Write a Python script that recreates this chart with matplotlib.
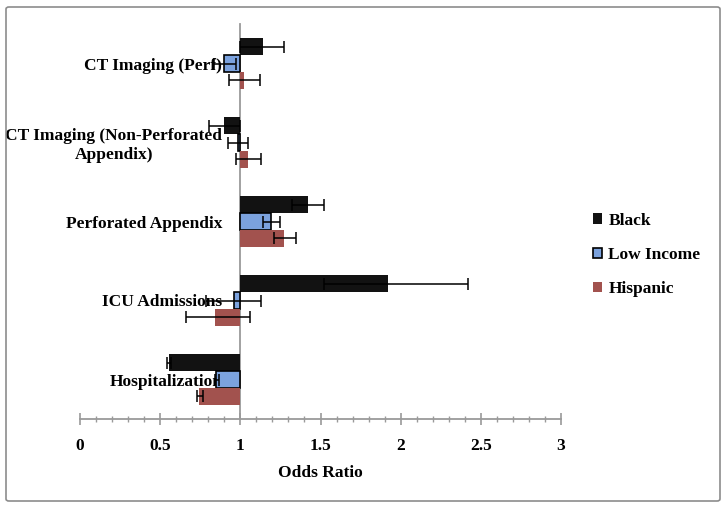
import numpy as np
import matplotlib
matplotlib.use("Agg")
import matplotlib.pyplot as plt
import matplotlib.patches as mpatches
from matplotlib.ticker import MultipleLocator

# 类别从下往上（Excel 条形图的顺序）
categories = ["Hospitalization", "ICU Admissions", "Perforated Appendix",
              "CT Imaging (Non-Perforated\nAppendix)", "CT Imaging (Perf)"]
series = ["Black", "Low Income", "Hispanic"]

black_or = [0.555, 1.92, 1.42, 0.90, 1.14]
black_lo = [0.545, 1.52, 1.32, 0.805, 1.00]
black_hi = [0.57, 2.42, 1.52, 1.00, 1.275]

low_or = [0.85, 0.96, 1.19, 0.985, 0.90]
low_lo = [0.84, 0.785, 1.14, 0.92, 0.835]
low_hi = [0.87, 1.13, 1.25, 1.05, 0.975]

hisp_or = [0.74, 0.84, 1.27, 1.045, 1.025]
hisp_lo = [0.73, 0.66, 1.21, 0.975, 0.93]
hisp_hi = [0.77, 1.06, 1.35, 1.13, 1.12]

COL_BLACK = "#121212"
COL_BLUE = "#7BA2DE"
COL_RED = "#A2524E"
AXIS_C = "#9A9A9A"
FONT = "Liberation Serif"
FS = 12.5

fig = plt.figure(figsize=(7.26, 5.07), dpi=100)
ax = fig.add_axes([80 / 726, 88 / 507, 481 / 726, 395 / 507])

y = np.arange(len(categories))
h = 0.215
data = [
    (black_or, black_lo, black_hi, COL_BLACK, "none", 0, h),
    (low_or, low_lo, low_hi, COL_BLUE, "black", 1.2, 0),
    (hisp_or, hisp_lo, hisp_hi, COL_RED, "none", 0, -h),
]
for (vals, lo, hi, col, ec, lw, off) in data:
    vals = np.array(vals)
    err = [vals - np.array(lo), np.array(hi) - vals]
    ax.barh(y + off, vals - 1, left=1, height=h, color=col,
            edgecolor=ec, linewidth=lw, zorder=2)
    ax.errorbar(vals, y + off, xerr=err, fmt="none", ecolor="black",
                elinewidth=1.1, capsize=4, capthick=1.1, zorder=3)

ax.set_xlim(0, 3)
ax.set_ylim(-0.5, 4.5)

# y 轴放在 x=1 处
ax.spines["left"].set_position(("data", 1))
ax.spines["left"].set_color(AXIS_C)
ax.spines["left"].set_linewidth(1.3)
ax.spines["left"].set_zorder(1)
ax.spines["bottom"].set_color(AXIS_C)
ax.spines["bottom"].set_linewidth(1.3)
ax.spines["top"].set_visible(False)
ax.spines["right"].set_visible(False)

ax.set_yticks(y)
ax.set_yticklabels(categories, fontfamily=FONT, fontweight="bold", fontsize=FS)
for lbl in ax.get_yticklabels():
    lbl.set_multialignment("center")
ax.tick_params(axis="y", length=0, pad=13)

ax.xaxis.set_major_locator(MultipleLocator(0.5))
ax.xaxis.set_minor_locator(MultipleLocator(0.1))
ax.set_xticks([0, 0.5, 1, 1.5, 2, 2.5, 3])
ax.set_xticklabels(["0", "0.5", "1", "1.5", "2", "2.5", "3"],
                   fontfamily=FONT, fontweight="bold", fontsize=FS)
ax.tick_params(axis="x", which="major", direction="inout", length=9,
               width=1.2, color=AXIS_C, pad=9)
ax.tick_params(axis="x", which="minor", direction="inout", length=5,
               width=1.0, color=AXIS_C)
ax.set_xlabel("Odds Ratio", fontfamily=FONT, fontweight="bold",
              fontsize=FS, labelpad=8)

handles = [mpatches.Patch(facecolor=COL_BLACK, edgecolor="none", label="Black"),
           mpatches.Patch(facecolor=COL_BLUE, edgecolor="black", linewidth=1.2, label="Low Income"),
           mpatches.Patch(facecolor=COL_RED, edgecolor="none", label="Hispanic")]
leg = fig.legend(handles=handles, loc="center left",
                 bbox_to_anchor=(577 / 726, 1 - 255 / 507),
                 frameon=False, handlelength=0.55, handleheight=0.55,
                 handletextpad=0.35, labelspacing=1.05,
                 prop={"family": FONT, "weight": "bold", "size": FS})

# 外框
fig.add_artist(mpatches.FancyBboxPatch((6 / 726, 6 / 507), 714 / 726, 494 / 507,
                                       boxstyle="round,pad=0,rounding_size=0.004",
                                       transform=fig.transFigure, fill=False,
                                       edgecolor="#8C8C8C", linewidth=1.2))

fig.savefig("out.png", dpi=100)
